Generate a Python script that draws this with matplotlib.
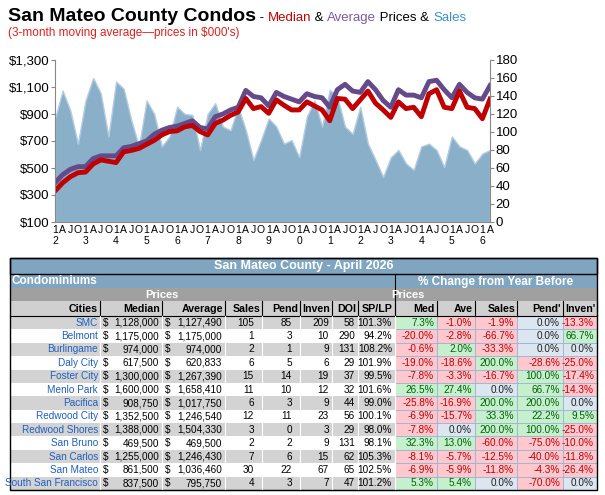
import matplotlib
matplotlib.use('Agg')
from matplotlib import pyplot as plt
from matplotlib.patches import Rectangle
import numpy as np

plt.rcParams['font.family'] = ['Liberation Sans', 'DejaVu Sans']

# Quarterly readings, Jan 2012 .. Apr 2026 (prices in $000's, sales count)
median = [330, 390, 435, 465, 470, 530, 560, 550, 540, 620, 630, 645,
          675, 705, 745, 770, 775, 805, 815, 770, 745, 830, 855, 890,
          915, 1015, 940, 955, 905, 1005, 965, 930, 930, 990, 960, 930,
          850, 1015, 1010, 940, 1005, 1070, 980, 930, 875, 990, 940, 950,
          880, 1050, 1080, 950, 940, 1070, 950, 940, 865, 1010]
average = [390, 450, 490, 510, 510, 570, 590, 590, 590, 650, 660, 680,
           700, 750, 780, 800, 810, 830, 850, 800, 790, 880, 900, 930,
           950, 1075, 1030, 1020, 960, 1060, 1030, 1010, 990, 1050, 1030, 1020,
           950, 1080, 1120, 1070, 1060, 1140, 1080, 1000, 950, 1080, 1040, 1040,
           1020, 1140, 1150, 1080, 1020, 1120, 1060, 1020, 1010, 1110]
sales = [115, 146, 124, 87, 135, 160, 143, 95, 156, 148, 113, 84,
         135, 120, 84, 95, 128, 120, 119, 80, 120, 132, 106, 102,
         128, 102, 69, 91, 115, 106, 87, 91, 72, 117, 135, 106,
         147, 139, 106, 98, 128, 87, 69, 50, 72, 80, 65, 58,
         84, 87, 80, 61, 95, 84, 80, 65, 76, 80]

cities = ['SMC', 'Belmont', 'Burlingame', 'Daly City', 'Foster City', 'Menlo Park',
          'Pacifica', 'Redwood City', 'Redwood Shores', 'San Bruno', 'San Carlos',
          'San Mateo', 'South San Francisco']
t_median = [1128000, 1175000, 974000, 617500, 1300000, 1600000, 908750, 1352500,
            1388000, 469500, 1255000, 861500, 837500]
t_average = [1127490, 1175000, 974000, 620833, 1267390, 1658410, 1017750, 1246540,
             1504330, 469500, 1246430, 1036460, 795750]
t_sales = [105, 1, 2, 6, 15, 11, 6, 12, 3, 2, 7, 30, 4]
t_pend = [85, 3, 1, 5, 14, 10, 3, 11, 0, 2, 6, 22, 3]
t_inven = [209, 10, 9, 6, 19, 12, 9, 23, 3, 9, 15, 67, 7]
t_doi = [58, 290, 131, 29, 37, 32, 44, 56, 29, 131, 62, 65, 47]
t_splp = [101.3, 94.2, 108.2, 101.9, 99.5, 101.6, 99.0, 100.1, 98.0, 98.1, 105.3, 102.5, 101.2]
chg_med = [7.3, -20.0, -0.6, -19.0, -7.8, 26.5, -25.8, -6.9, -7.8, 32.3, -8.1, -6.9, 5.3]
chg_ave = [-1.0, -2.8, 2.0, -18.6, -3.3, 27.4, -16.9, -15.7, 0.0, 13.0, -5.7, -5.9, 5.4]
chg_sales = [-1.9, -66.7, -33.3, 200.0, -16.7, 0.0, 200.0, 33.3, 200.0, -60.0, -12.5, -11.8, 0.0]
chg_pend = [0.0, 0.0, 0.0, -28.6, 100.0, 66.7, 200.0, 22.2, 100.0, -75.0, -40.0, -4.3, -70.0]
chg_inven = [-13.3, 66.7, 0.0, -25.0, -17.4, -14.3, 0.0, 9.5, -25.0, -10.0, -11.8, -26.4, 0.0]

W, H = 605, 495
FS = 7.2
fig = plt.figure(figsize=(W / 100, H / 100), dpi=100)

# ---- chart ----
ax = fig.add_axes([55 / W, 1 - 222 / H, 435 / W, 162 / H])
x = np.arange(len(median)) * 3
ax2 = ax.twinx()
ax2.fill_between(x, sales, color='#8aafc9', ec='#b5cde0', lw=1)
ax2.set_ylim(0, 180)
ax2.set_yticks(range(0, 181, 20))
ax.set_zorder(ax2.get_zorder() + 1)
ax.patch.set_visible(False)
ax.plot(x, average, color='#654a8a', lw=3.5, solid_joinstyle='round')
ax.plot(x, median, color='#c00000', lw=3.5, solid_joinstyle='round')
ax.set_ylim(100, 1300)
ax.set_yticks(range(100, 1301, 200))
ax.set_yticklabels([f'${v:,}' for v in range(100, 1301, 200)])
ax.set_xlim(0, x[-1])
labels = []
for i in range(len(x)):
    q = i % 4
    labels.append(f'1\n{(2012 + i // 4) % 10}' if q == 0 else 'AJO'[q - 1])
ax.set_xticks(x)
ax.set_xticklabels(labels, fontsize=7.5, linespacing=1.1, va='top')
for a in (ax, ax2):
    a.tick_params(labelsize=9.5, length=3, color='#888888', pad=1)
    for s in a.spines.values():
        s.set_visible(False)
ax.tick_params(axis='x', labelsize=7.5, length=0, pad=2)
ax.spines['left'].set_visible(True)
ax.spines['bottom'].set_visible(True)
ax2.spines['right'].set_visible(True)
for a in (ax, ax2):
    for s in ('left', 'bottom', 'right'):
        a.spines[s].set_color('#888888')

# ---- title ----
r = fig.canvas.get_renderer()
xpos = 8
parts = [('San Mateo County Condos', 'black', 14, 'bold'), (' - ', 'black', 9.5, 'normal'),
         ('Median', '#c00000', 9.5, 'normal'), (' & ', 'black', 9.5, 'normal'),
         ('Average', '#7a5a9e', 9.5, 'normal'), (' Prices & ', 'black', 9.5, 'normal'),
         ('Sales', '#3d8fd1', 9.5, 'normal')]
for txt, c, fs, fw in parts:
    t = fig.text(xpos / W, 1 - 21 / H, txt, color=c, fontsize=fs, fontweight=fw,
                 va='baseline')
    xpos += t.get_window_extent(r).width
fig.text(8 / W, 1 - 33 / H, "(3-month moving average\u2014prices in $000's)",
         color='#e02020', fontsize=8.5, va='center')

# ---- table ----
tb = fig.add_axes([0, 0, 1, 1])
tb.set_xlim(0, W)
tb.set_ylim(H, 0)
tb.axis('off')
L, R = 10, 597
cols = [10, 100, 162, 225, 262, 300, 332, 358, 395, 437, 475, 517, 563, 597]


def box(x0, y0, x1, y1, fc, ec='none', lw=0.6):
    tb.add_patch(Rectangle((x0, y0), x1 - x0, y1 - y0, fc=fc, ec=ec, lw=lw))


box(L, 258, R, 288, '#7fa5c0')
box(L, 258, R, 274, 'none', ec='black', lw=1)
tb.text((L + R) / 2, 266, 'San Mateo County - April 2026', color='white',
        fontsize=9, fontweight='bold', ha='center', va='center')
tb.text(L + 2, 281, 'Condominiums', color='white', fontsize=8.5,
        fontweight='bold', va='center')
tb.text((395 + R) / 2, 282, '% Change from Year Before', color='white',
        fontsize=8.5, fontweight='bold', ha='center', va='center')
box(L, 288, R, 301, '#a0a0a0')
tb.text(162, 294.5, 'Prices', color='white', fontsize=8, fontweight='bold',
        ha='center', va='center')
tb.text(408, 294.5, 'Prices', color='white', fontsize=8, fontweight='bold',
        ha='center', va='center')
box(L, 301, R, 316, '#d0d0d0')
tb.plot([395, 395], [274, 316], color='black', lw=0.8)
heads = ['Cities', 'Median', 'Average', 'Sales', 'Pend', 'Inven', 'DOI', 'SP/LP',
         'Med', 'Ave', 'Sales', "Pend'", "Inven'"]
for j, h in enumerate(heads):
    tb.text(cols[j + 1] - 2, 308.5, h, fontsize=FS + 0.5, fontweight='bold',
            ha='right', va='center')
    tb.plot([cols[j + 1]] * 2, [301, 316], color='black', lw=0.8)
tb.plot([L, R], [316, 316], color='black', lw=0.8)

rh = (490 - 316) / len(cities)
green, red, blue = ('#c6efce', '#006100'), ('#ffc7ce', '#c00000'), ('#dce6f1', '#1f1f1f')
for i in range(len(cities)):
    y0 = 316 + i * rh
    yc = y0 + rh / 2
    box(L, y0, 395, y0 + rh, '#d3d3d3' if i % 2 == 0 else 'white')
    tb.text(cols[1] - 2, yc, cities[i], color='#1f5fbf', fontsize=FS,
            ha='right', va='center', clip_on=True)
    tb.text(cols[1] + 3, yc, '$', fontsize=FS, va='center')
    tb.text(cols[2] - 3, yc, f'{t_median[i]:,}', fontsize=FS, ha='right', va='center')
    tb.text(cols[2] + 3, yc, '$', fontsize=FS, va='center')
    tb.text(cols[3] - 3, yc, f'{t_average[i]:,}', fontsize=FS, ha='right', va='center')
    for j, v in enumerate([t_sales[i], t_pend[i], t_inven[i], t_doi[i]]):
        tb.text(cols[4 + j] - 8 if j < 2 else cols[4 + j] - 3, yc, str(v),
                fontsize=FS, ha='right', va='center')
    tb.text(cols[8] - 3, yc, f'{t_splp[i]:.1f}%', fontsize=FS, ha='right', va='center')
    for j, v in enumerate([chg_med[i], chg_ave[i], chg_sales[i], chg_pend[i], chg_inven[i]]):
        fc, tc = green if v > 0 else red if v < 0 else blue
        box(cols[8 + j], y0, cols[9 + j], y0 + rh, fc, ec='#9ab4d0', lw=0.6)
        tb.text(cols[9 + j] - 3, yc, f'{v:.1f}%', color=tc, fontsize=FS,
                ha='right', va='center')
    for xc in cols[1:9]:
        tb.plot([xc, xc], [y0, y0 + rh], color='white', lw=0.8)
tb.add_patch(Rectangle((L, 258), R - L, 490 - 258, fc='none', ec='black', lw=1))
tb.plot([L, 395], [490, 490], color='black', lw=0.8)

fig.savefig('out.png', dpi=100)
